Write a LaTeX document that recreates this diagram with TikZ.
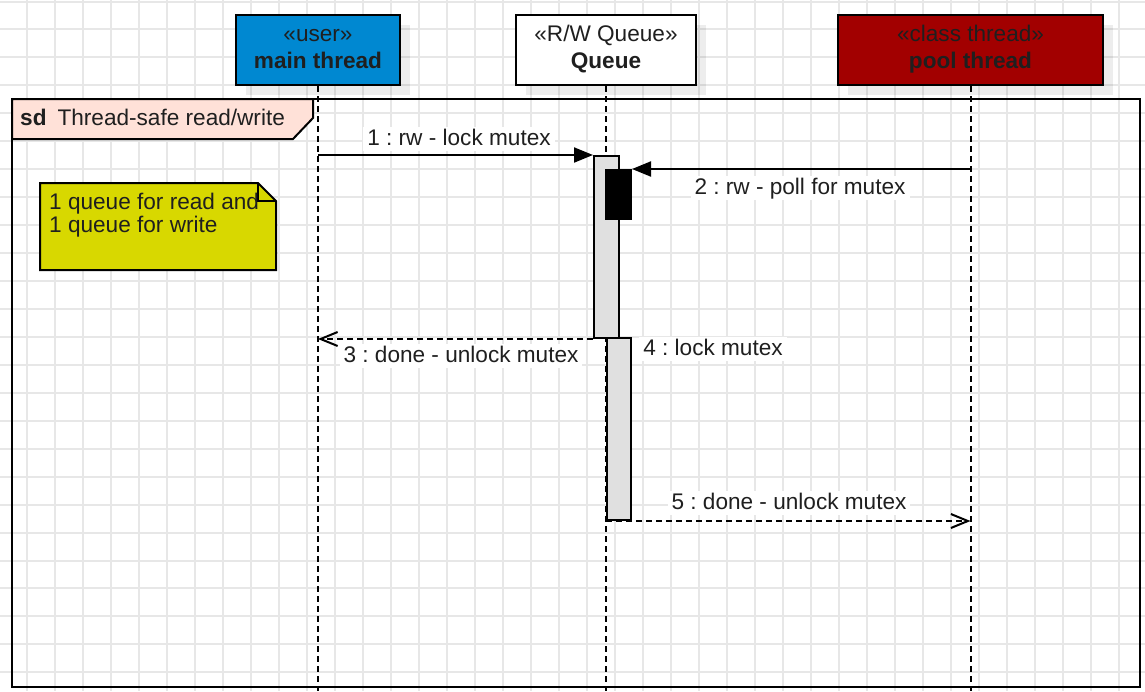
\documentclass[tikz,border=0pt]{standalone}
\usepackage{fontspec}
\setmainfont{Liberation Sans}
\usepackage{xcolor}
\usetikzlibrary{arrows.meta,shadows,calc}
\definecolor{blue1}{HTML}{0088D1}
\definecolor{red1}{HTML}{A20000}
\definecolor{pink1}{HTML}{FFE1D8}
\definecolor{olive1}{HTML}{D8D800}
\definecolor{gray1}{HTML}{E0E0E0}
\definecolor{grid1}{HTML}{E7E7E7}
\definecolor{ink1}{HTML}{1F1F1F}
\newcommand{\bigfont}{\fontsize{22.6}{27}\selectfont}
\frenchspacing

\begin{document}
\begin{tikzpicture}[x=1pt,y=-1pt,
  head/.style={draw,line width=2pt,minimum height=70pt,align=center,font=\bigfont,text=ink1,inner sep=0pt,
    drop shadow={shadow xshift=10pt,shadow yshift=-10pt,fill=black,opacity=0.07}},
  lifeline/.style={line width=2pt,dash pattern=on 6pt off 4pt},
  msg/.style={line width=2pt,-{Triangle[length=19pt,width=15pt]}},
  reply/.style={line width=2pt,dash pattern=on 6pt off 4pt,-{Straight Barb[length=17pt,width=14pt]}},
  lbl/.style={fill=white,inner xsep=4pt,inner ysep=1pt,font=\bigfont,text=ink1,text height=17pt,text depth=5pt},
  actbox/.style={draw,line width=2pt,fill=gray1,inner sep=0pt,anchor=north west}]

\useasboundingbox (0,0) rectangle (1145,691);
\fill[white] (0,0) rectangle (1145,691);

% grid
\foreach \i in {0,...,39}
  \draw[grid1,line width=2pt] (26.7+28*\i,0) -- (26.7+28*\i,691);
\foreach \j in {0,...,24}
  \draw[grid1,line width=2pt] (0,1.5+27.95*\j) -- (1145,1.5+27.95*\j);

% frame
\draw[line width=2pt] (12,99) rectangle (1140,687);
\draw[line width=2pt,fill=pink1] (12,99) -- (313,99) -- (313,118) -- (293,139) -- (12,139) -- cycle;
\node[anchor=west,font=\bigfont,text=ink1,inner sep=0pt] (sdtag) at (20,117) {\textbf{sd}\hspace{11pt}Thread-safe read/write};

% note
\draw[line width=2pt,fill=olive1] (40,183) -- (258,183) -- (276,201) -- (276,270) -- (40,270) -- cycle;
\draw[line width=2pt] (258,183) -- (258,201) -- (276,201);
\node[anchor=north west,align=left,inner sep=0pt,font=\fontsize{22.6}{22.6}\selectfont,text=ink1] (note) at (49,193) {1 queue for read and\\1 queue for write};

% heads
\node[head,fill=blue1,minimum width=164pt] (main) at (318,50) {\strut«user»\\\strut\textbf{main thread}};
\node[head,fill=white,minimum width=180pt] (queue) at (606,50) {\strut«R/W Queue»\\\strut\textbf{Queue}};
\node[head,fill=red1,minimum width=265pt] (pool) at (970.5,50) {\strut«class thread»\\\strut\textbf{pool thread}};

\coordinate (bot) at (0,691);
\draw[lifeline] (main.south) -- (main.south |- bot);
\draw[lifeline] (queue.south) -- (queue.south |- bot);
\draw[lifeline] (pool.south) -- (pool.south |- bot);

% activations
\node[actbox,minimum width=25pt,minimum height=182pt] (act1) at (593,155) {};
\node[actbox,fill=black,minimum width=25pt,minimum height=49pt] (act1b) at (605,169) {};
\node[actbox,minimum width=24pt,minimum height=182pt] (act2) at (606,337) {};

% messages
\node[lbl] (l1) at (459,139) {1 : rw - lock mutex};
\node[lbl] (l2) at (800,188) {2 : rw - poll for mutex};
\node[lbl] (l3) at (461,356) {3 : done - unlock mutex};
\node[lbl] (l4) at (713,349) {4 : lock mutex};
\node[lbl] (l5) at (789,503) {5 : done - unlock mutex};

\draw[msg] (main.south |- act1.north west) -- (act1.north west);
\draw[msg] (pool.south |- act1b.north east) -- (act1b.north east);
\draw[reply] (act1.south west) -- (main.south |- act1.south west);
\draw[reply] (act2.south west) -- (pool.south |- act2.south west);

\end{tikzpicture}
\end{document}
